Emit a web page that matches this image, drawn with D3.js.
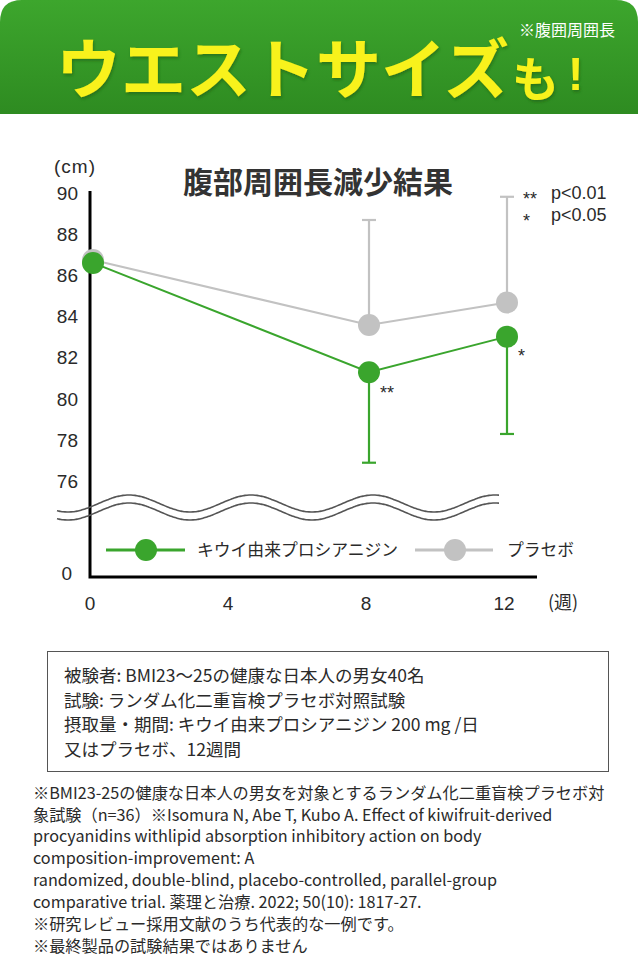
<!DOCTYPE html>
<html>
<head>
<meta charset="utf-8">
<script src="https://cdn.jsdelivr.net/npm/d3@7"></script>
<style>
  body { margin: 0; background: #fff; }
  svg { display: block; font-family: "Noto Sans CJK JP", "Noto Sans", sans-serif; }
</style>
</head>
<body>
<svg id="chart" width="638" height="972"></svg>
<script>
// Data
const weeks = [0, 8, 12];
const kiwiMean = [86.62, 81.30, 83.03];
const kiwiSD = [null, 4.41, 4.74];
const placeboMean = [86.76, 83.60, 84.69];
const placeboSD = [null, 5.11, 5.15];
const kiwiStars = [null, "**", "*"];
const yTicks = [76, 78, 80, 82, 84, 86, 88, 90];
const xTicks = [0, 4, 8, 12];
const seriesNames = ["キウイ由来プロシアニジン", "プラセボ"];
const sigLabels = [["**", "p<0.01"], ["*", "p<0.05"]];

const infoLines = [
  "被験者: BMI23〜25の健康な日本人の男女40名",
  "試験: ランダム化二重盲検プラセボ対照試験",
  "摂取量・期間: キウイ由来プロシアニジン 200 mg /日",
  "又はプラセボ、12週間"
];
const noteLines = [
  "※BMI23-25の健康な日本人の男女を対象とするランダム化二重盲検プラセボ対",
  "象試験（n=36）※Isomura N, Abe T, Kubo A. Effect of kiwifruit-derived",
  "procyanidins withlipid absorption inhibitory action on body",
  "composition-improvement: A",
  "randomized, double-blind, placebo-controlled, parallel-group",
  "comparative trial. 薬理と治療. 2022; 50(10): 1817-27.",
  "※研究レビュー採用文献のうち代表的な一例です。",
  "※最終製品の試験結果ではありません"
];

const green = "#3aa52d";
const gray = "#c2c2c2";
const textColor = "#2a2a2a";
const latin = "'Liberation Sans', 'Noto Sans CJK JP', sans-serif";

const svg = d3.select("#chart");

// ---- Header banner
const defs = svg.append("defs");
const grad = defs.append("linearGradient")
  .attr("id", "hdr").attr("x1", 0).attr("y1", 0).attr("x2", 0).attr("y2", 1);
grad.append("stop").attr("offset", "0%").attr("stop-color", "#3da62d");
grad.append("stop").attr("offset", "100%").attr("stop-color", "#2e8b21");

const hw = 638, hh = 114, r = 22;
svg.append("path")
  .attr("d", `M0,${hh} L0,${r} Q0,0 ${r},0 L${hw - r},0 Q${hw},0 ${hw},${r} L${hw},${hh} Z`)
  .attr("fill", "url(#hdr)");

const shadow = defs.append("filter").attr("id", "ts")
  .attr("x", "-5%").attr("y", "-5%").attr("width", "110%").attr("height", "120%");
shadow.append("feDropShadow").attr("dx", 1).attr("dy", 2).attr("stdDeviation", 1.5)
  .attr("flood-color", "#1b5a12").attr("flood-opacity", 0.6);

svg.append("text")
  .attr("x", 56).attr("y", 93)
  .attr("font-size", 65).attr("font-weight", 700)
  .attr("fill", "#f8f21a")
  .attr("filter", "url(#ts)")
  .text("ウエストサイズ");
svg.append("text")
  .attr("x", 512).attr("y", 96)
  .attr("font-size", 47).attr("font-weight", 700)
  .attr("fill", "#f8f21a")
  .attr("filter", "url(#ts)")
  .text("も");
svg.append("text")
  .attr("x", 568).attr("y", 90)
  .attr("font-size", 46).attr("font-weight", 700)
  .attr("font-family", latin)
  .attr("fill", "#f8f21a")
  .attr("filter", "url(#ts)")
  .text("!");
svg.append("text")
  .attr("x", 519).attr("y", 36)
  .attr("font-size", 16).attr("fill", "#fff")
  .text("※腹囲周囲長");

// ---- Chart
const y = d3.scaleLinear().domain([76, 90]).range([481, 193.5]);
const x = d3.scaleLinear().domain([0, 12]).range([93, 507]);
const axisX = 90, axisBottom = 577, axisRight = 537;

// title
svg.append("text")
  .attr("x", 318).attr("y", 193)
  .attr("text-anchor", "middle")
  .attr("font-size", 30).attr("font-weight", 700)
  .attr("fill", "#333")
  .text("腹部周囲長減少結果");

// unit
svg.append("text")
  .attr("x", 54).attr("y", 166).attr("dy", "0.35em")
  .attr("font-size", 19).attr("letter-spacing", 1)
  .attr("font-family", latin).attr("fill", textColor)
  .text("(cm)");

// y tick labels
svg.selectAll(".ytick")
  .data(yTicks)
  .enter().append("text")
  .attr("class", "ytick")
  .attr("x", 78).attr("y", d => y(d))
  .attr("dy", "0.35em")
  .attr("text-anchor", "end")
  .attr("font-size", 19).attr("font-family", latin).attr("fill", textColor)
  .text(d => d);
svg.append("text")
  .attr("x", 72).attr("y", 573).attr("dy", "0.35em")
  .attr("text-anchor", "end")
  .attr("font-size", 19).attr("font-family", latin).attr("fill", textColor)
  .text("0");

// axes lines
svg.append("path")
  .attr("d", `M${axisX},191 L${axisX},${axisBottom} L${axisRight},${axisBottom}`)
  .attr("fill", "none").attr("stroke", "#000").attr("stroke-width", 3);

// x tick labels
svg.selectAll(".xtick")
  .data(xTicks)
  .enter().append("text")
  .attr("class", "xtick")
  .attr("x", d => x(d) - 3).attr("y", 603)
  .attr("dy", "0.35em")
  .attr("text-anchor", "middle")
  .attr("font-size", 19).attr("font-family", latin).attr("fill", textColor)
  .text(d => d);
svg.append("text")
  .attr("x", 563).attr("y", 603).attr("dy", "0.35em")
  .attr("text-anchor", "middle")
  .attr("font-size", 18).attr("fill", textColor)
  .text("(週)");

// axis break waves
const waveLine = d3.line().curve(d3.curveBasis);
[0, 8].forEach(off => {
  const pts = d3.range(57, 500, 2).map(px =>
    [px, 503.5 + off + 8.5 * Math.cos((px - 68) / 122 * 2 * Math.PI)]);
  svg.append("path")
    .attr("d", waveLine(pts))
    .attr("fill", "none").attr("stroke", "#555").attr("stroke-width", 1.6);
});

// significance legend
sigLabels.forEach((s, i) => {
  svg.append("text").attr("x", 523).attr("y", 199 + i * 22).attr("dy", "0.35em")
    .attr("font-size", 18).attr("font-family", latin).attr("fill", textColor).text(s[0]);
  svg.append("text").attr("x", 551).attr("y", 193 + i * 22).attr("dy", "0.35em")
    .attr("font-size", 18).attr("font-family", latin).attr("fill", textColor).text(s[1]);
});

// series
const placebo = weeks.map((w, i) => ({ w, v: placeboMean[i], sd: placeboSD[i] }));
const kiwi = weeks.map((w, i) => ({ w, v: kiwiMean[i], sd: kiwiSD[i], star: kiwiStars[i] }));
const line = d3.line().x(d => x(d.w)).y(d => y(d.v));

function drawSeries(data, color, dir) {
  const g = svg.append("g");
  const eb = data.filter(d => d.sd != null);
  g.selectAll(".eb")
    .data(eb).enter().append("line")
    .attr("x1", d => x(d.w)).attr("x2", d => x(d.w))
    .attr("y1", d => y(d.v))
    .attr("y2", d => y(d.v + dir * d.sd))
    .attr("stroke", color).attr("stroke-width", 2.2);
  g.selectAll(".cap")
    .data(eb).enter().append("line")
    .attr("x1", d => x(d.w) - 7).attr("x2", d => x(d.w) + 7)
    .attr("y1", d => y(d.v + dir * d.sd))
    .attr("y2", d => y(d.v + dir * d.sd))
    .attr("stroke", color).attr("stroke-width", 2.2);
  g.append("path")
    .attr("d", line(data))
    .attr("fill", "none").attr("stroke", color).attr("stroke-width", 2);
  g.selectAll(".dot")
    .data(data).enter().append("circle")
    .attr("cx", d => x(d.w)).attr("cy", d => y(d.v))
    .attr("r", 11).attr("fill", color);
}
drawSeries(placebo, gray, 1);
drawSeries(kiwi, green, -1);

svg.selectAll(".star")
  .data(kiwi.filter(d => d.star))
  .enter().append("text")
  .attr("x", d => x(d.w) + 11)
  .attr("y", d => y(d.v) + (d.star === "**" ? 21 : 19))
  .attr("dy", "0.35em")
  .attr("font-size", 18).attr("font-family", latin).attr("fill", textColor)
  .text(d => d.star);

// legend
const legend = [
  { name: seriesNames[0], color: green, x0: 106, x1: 185, cx: 146, tx: 197 },
  { name: seriesNames[1], color: gray, x0: 415, x1: 493, cx: 455, tx: 507 }
];
legend.forEach(l => {
  svg.append("line").attr("x1", l.x0).attr("x2", l.x1).attr("y1", 550).attr("y2", 550)
    .attr("stroke", l.color).attr("stroke-width", 3);
  svg.append("circle").attr("cx", l.cx).attr("cy", 550).attr("r", 11).attr("fill", l.color);
  svg.append("text").attr("x", l.tx).attr("y", 550).attr("dy", "0.35em")
    .attr("font-size", 16.8).attr("fill", textColor).text(l.name);
});

// ---- Info box
svg.append("rect")
  .attr("x", 47.5).attr("y", 651.5).attr("width", 561).attr("height", 120)
  .attr("fill", "none").attr("stroke", "#555").attr("stroke-width", 1);
svg.selectAll(".info")
  .data(infoLines).enter().append("text")
  .attr("x", 64).attr("y", (d, i) => 676 + i * 24.5)
  .attr("dy", "0.35em")
  .attr("font-size", 17.5).attr("fill", textColor)
  .text(d => d);

// ---- Footnotes
svg.selectAll(".note")
  .data(noteLines).enter().append("text")
  .attr("x", 33).attr("y", (d, i) => 793 + i * 21.9)
  .attr("dy", "0.35em")
  .attr("font-size", 16.2).attr("fill", textColor)
  .text(d => d);
</script>
</body>
</html>
